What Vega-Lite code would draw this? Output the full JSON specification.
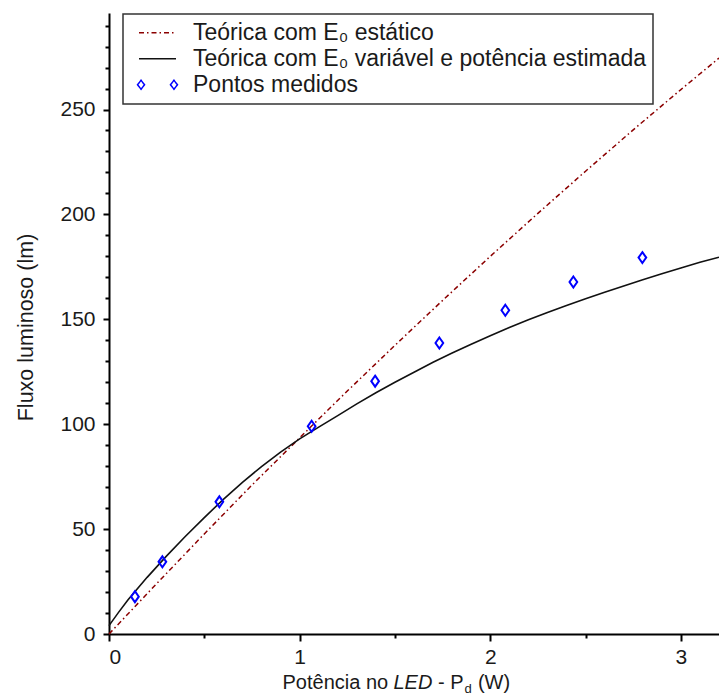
{
  "$schema": "https://vega.github.io/schema/vega-lite/v6.json",
  "width": 610,
  "height": 621,
  "autosize": {"type": "none"},
  "padding": {"left": 109, "top": 13, "right": 0, "bottom": 61},
  "background": "white",
  "config": {
    "view": {"stroke": null},
    "font": "Liberation Sans",
    "axis": {"grid": false, "domainColor": "#000", "tickColor": "#000", "labelColor": "#1a1a1a", "titleColor": "#1a1a1a", "labelFont": "Liberation Sans", "titleFont": "Liberation Sans", "titleFontWeight": "normal"}
  },
  "datasets": {
    "estatico": [
      {"p": 0, "f": 0, "serie": "Teórica com E₀ estático"},
      {"p": 0.25, "f": 24, "serie": "Teórica com E₀ estático"},
      {"p": 0.5, "f": 47.7, "serie": "Teórica com E₀ estático"},
      {"p": 0.75, "f": 71, "serie": "Teórica com E₀ estático"},
      {"p": 1.0, "f": 93.5, "serie": "Teórica com E₀ estático"},
      {"p": 1.25, "f": 115.8, "serie": "Teórica com E₀ estático"},
      {"p": 1.5, "f": 137.6, "serie": "Teórica com E₀ estático"},
      {"p": 1.75, "f": 159, "serie": "Teórica com E₀ estático"},
      {"p": 2.0, "f": 180, "serie": "Teórica com E₀ estático"},
      {"p": 2.25, "f": 200.5, "serie": "Teórica com E₀ estático"},
      {"p": 2.5, "f": 220.6, "serie": "Teórica com E₀ estático"},
      {"p": 2.75, "f": 240.3, "serie": "Teórica com E₀ estático"},
      {"p": 3.0, "f": 259.5, "serie": "Teórica com E₀ estático"},
      {"p": 3.2, "f": 274.5, "serie": "Teórica com E₀ estático"}
    ],
    "variavel": [
      {"p": 0, "f": 4, "serie": "Teórica com E₀ variável e potência estimada"},
      {"p": 0.05, "f": 10.3, "serie": "Teórica com E₀ variável e potência estimada"},
      {"p": 0.1, "f": 16.3, "serie": "Teórica com E₀ variável e potência estimada"},
      {"p": 0.2, "f": 27, "serie": "Teórica com E₀ variável e potência estimada"},
      {"p": 0.3, "f": 37, "serie": "Teórica com E₀ variável e potência estimada"},
      {"p": 0.4, "f": 46.5, "serie": "Teórica com E₀ variável e potência estimada"},
      {"p": 0.5, "f": 55.5, "serie": "Teórica com E₀ variável e potência estimada"},
      {"p": 0.6, "f": 64.2, "serie": "Teórica com E₀ variável e potência estimada"},
      {"p": 0.7, "f": 72.3, "serie": "Teórica com E₀ variável e potência estimada"},
      {"p": 0.8, "f": 79.8, "serie": "Teórica com E₀ variável e potência estimada"},
      {"p": 0.9, "f": 86.7, "serie": "Teórica com E₀ variável e potência estimada"},
      {"p": 1.0, "f": 93, "serie": "Teórica com E₀ variável e potência estimada"},
      {"p": 1.1, "f": 98.6, "serie": "Teórica com E₀ variável e potência estimada"},
      {"p": 1.2, "f": 104.1, "serie": "Teórica com E₀ variável e potência estimada"},
      {"p": 1.3, "f": 109.7, "serie": "Teórica com E₀ variável e potência estimada"},
      {"p": 1.4, "f": 115, "serie": "Teórica com E₀ variável e potência estimada"},
      {"p": 1.5, "f": 120, "serie": "Teórica com E₀ variável e potência estimada"},
      {"p": 1.6, "f": 124.8, "serie": "Teórica com E₀ variável e potência estimada"},
      {"p": 1.7, "f": 129.5, "serie": "Teórica com E₀ variável e potência estimada"},
      {"p": 1.8, "f": 133.9, "serie": "Teórica com E₀ variável e potência estimada"},
      {"p": 1.9, "f": 138.1, "serie": "Teórica com E₀ variável e potência estimada"},
      {"p": 2.0, "f": 142.2, "serie": "Teórica com E₀ variável e potência estimada"},
      {"p": 2.1, "f": 146.1, "serie": "Teórica com E₀ variável e potência estimada"},
      {"p": 2.2, "f": 149.8, "serie": "Teórica com E₀ variável e potência estimada"},
      {"p": 2.3, "f": 153.3, "serie": "Teórica com E₀ variável e potência estimada"},
      {"p": 2.4, "f": 156.6, "serie": "Teórica com E₀ variável e potência estimada"},
      {"p": 2.5, "f": 159.8, "serie": "Teórica com E₀ variável e potência estimada"},
      {"p": 2.6, "f": 162.9, "serie": "Teórica com E₀ variável e potência estimada"},
      {"p": 2.7, "f": 165.9, "serie": "Teórica com E₀ variável e potência estimada"},
      {"p": 2.8, "f": 168.8, "serie": "Teórica com E₀ variável e potência estimada"},
      {"p": 2.9, "f": 171.7, "serie": "Teórica com E₀ variável e potência estimada"},
      {"p": 3.0, "f": 174.5, "serie": "Teórica com E₀ variável e potência estimada"},
      {"p": 3.1, "f": 177.2, "serie": "Teórica com E₀ variável e potência estimada"},
      {"p": 3.2, "f": 179.6, "serie": "Teórica com E₀ variável e potência estimada"}
    ],
    "medidos": [
      {"p": 0.136, "f": 17.8, "serie": "Pontos medidos"},
      {"p": 0.280, "f": 34.4, "serie": "Pontos medidos"},
      {"p": 0.579, "f": 63.0, "serie": "Pontos medidos"},
      {"p": 1.063, "f": 99.0, "serie": "Pontos medidos"},
      {"p": 1.396, "f": 120.5, "serie": "Pontos medidos"},
      {"p": 1.733, "f": 138.7, "serie": "Pontos medidos"},
      {"p": 2.079, "f": 154.3, "serie": "Pontos medidos"},
      {"p": 2.436, "f": 167.8, "serie": "Pontos medidos"},
      {"p": 2.798, "f": 179.4, "serie": "Pontos medidos"}
    ]
  },
  "layer": [
    {
      "data": {"name": "estatico"},
      "mark": {"type": "line", "strokeWidth": 1.5, "strokeDash": [5, 3, 1.5, 3]},
      "encoding": {
        "x": {"field": "p", "type": "quantitative", "scale": {"domain": [0, 3.2], "nice": false, "zero": false},
          "axis": {"values": [0, 1, 2, 3], "format": "d", "domainWidth": 2, "tickWidth": 2, "tickSize": 7, "labelFontSize": 21, "labelPadding": 5,
            "title": "Potência no", "titleFontSize": 20, "titleX": 173, "titleY": 54, "titleAlign": "left", "titleBaseline": "alphabetic", "titleAngle": 0}},
        "y": {"field": "f", "type": "quantitative", "scale": {"domain": [0, 296], "nice": false, "zero": false},
          "axis": {"values": [0, 50, 100, 150, 200, 250], "domainWidth": 2, "tickWidth": 2, "tickSize": 6, "labelFontSize": 21, "labelPadding": 8,
            "title": "Fluxo luminoso (lm)", "titleFontSize": 21.5, "titleX": -77, "titleY": 314, "titleAngle": -90, "titleAlign": "center", "titleBaseline": "alphabetic"}},
        "color": {"field": "serie", "type": "nominal",
          "scale": {"domain": ["Teórica com E₀ estático", "Teórica com E₀ variável e potência estimada", "Pontos medidos"], "range": ["#8b0000", "#111111", "#0000ff"]},
          "legend": {"orient": "none", "legendX": 14, "legendY": 1, "title": null, "padding": 6, "strokeColor": "#333333", "fillColor": "#ffffff",
            "labelFontSize": 23, "labelFont": "Liberation Sans", "labelColor": "#1a1a1a", "labelLimit": 0, "labelOffset": 25, "rowPadding": 0, "clipHeight": 25.5,
            "symbolType": "stroke", "symbolSize": 100, "symbolStrokeWidth": 1.5,
            "encode": {
              "legend": {"update": {"strokeWidth": {"value": 1.5}}},
              "symbols": {"update": {
                "shape": {"signal": "datum.index === 2 ? 'M-1.08,0L-0.89,-0.24L-0.7,0L-0.89,0.24Z M0.7,0L0.89,-0.24L1.08,0L0.89,0.24Z' : 'stroke'"},
                "strokeDash": {"signal": "datum.index === 0 ? [5,3,1.5,3] : [1,0]"},
                "fill": {"value": "transparent"},
                "strokeWidth": {"value": 1.5},
                "size": {"value": 1369},
                "x": {"value": 28.5}
              }}
            }}
        }
      }
    },
    {
      "data": {"name": "variavel"},
      "mark": {"type": "line", "strokeWidth": 1.6},
      "encoding": {
        "x": {"field": "p", "type": "quantitative", "axis": {"orient": "bottom", "values": [0.5, 1.5, 2.5], "labels": false, "domain": false, "tickWidth": 2, "tickSize": 4, "title": null}},
        "y": {"field": "f", "type": "quantitative", "axis": {"orient": "left", "values": [10, 20, 30, 40, 60, 70, 80, 90, 110, 120, 130, 140, 160, 170, 180, 190, 210, 220, 230, 240, 260, 270, 280, 290], "labels": false, "domain": false, "tickWidth": 2, "tickSize": 4, "title": null}},
        "color": {"field": "serie", "type": "nominal"}
      }
    },
    {
      "data": {"name": "medidos"},
      "mark": {"type": "point", "filled": false, "shape": "M0,-1L0.7,0L0,1L-0.7,0Z", "size": 121, "strokeWidth": 2, "opacity": 1},
      "encoding": {
        "x": {"field": "p", "type": "quantitative", "axis": {"orient": "bottom", "labels": false, "domain": false, "ticks": false, "title": "LED", "titleFontSize": 20, "titleFontStyle": "italic", "titleX": 284, "titleY": 54, "titleAlign": "left", "titleBaseline": "alphabetic", "titleAngle": 0}},
        "y": {"field": "f", "type": "quantitative", "axis": null},
        "color": {"field": "serie", "type": "nominal"}
      }
    },
    {
      "data": {"name": "medidos"},
      "mark": {"type": "point", "opacity": 0},
      "encoding": {
        "x": {"field": "p", "type": "quantitative", "axis": {"orient": "bottom", "labels": false, "domain": false, "ticks": false, "title": "- P", "titleFontSize": 20, "titleX": 328.6, "titleY": 54, "titleAlign": "left", "titleBaseline": "alphabetic", "titleAngle": 0}},
        "y": {"field": "f", "type": "quantitative", "axis": null}
      }
    },
    {
      "data": {"name": "medidos"},
      "mark": {"type": "point", "opacity": 0},
      "encoding": {
        "x": {"field": "p", "type": "quantitative", "axis": {"orient": "bottom", "labels": false, "domain": false, "ticks": false, "title": "d", "titleFontSize": 13, "titleX": 355, "titleY": 58, "titleAlign": "left", "titleBaseline": "alphabetic", "titleAngle": 0}},
        "y": {"field": "f", "type": "quantitative", "axis": null}
      }
    },
    {
      "data": {"name": "medidos"},
      "mark": {"type": "point", "opacity": 0},
      "encoding": {
        "x": {"field": "p", "type": "quantitative", "axis": {"orient": "bottom", "labels": false, "domain": false, "ticks": false, "title": "(W)", "titleFontSize": 20, "titleX": 368.4, "titleY": 54, "titleAlign": "left", "titleBaseline": "alphabetic", "titleAngle": 0}},
        "y": {"field": "f", "type": "quantitative", "axis": null}
      }
    }
  ],
  "resolve": {"axis": {"x": "independent", "y": "independent"}}
}
